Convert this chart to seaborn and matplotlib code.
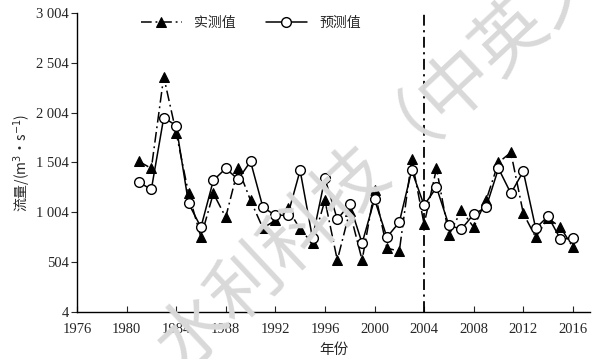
import numpy as np
import pandas as pd
import matplotlib
matplotlib.use('Agg')
import matplotlib.pyplot as plt
import seaborn as sns

years = list(range(1981, 2017))
measured = [1514, 1444, 2364, 1804, 1194, 754, 1194, 954, 1444, 1124,
            844, 924, 1044, 834, 694, 1124, 524, 1014, 524, 1224,
            644, 614, 1534, 884, 1444, 774, 1024, 854, 1124, 1504,
            1604, 994, 754, 944, 854, 654]
predicted = [1304, 1234, 1954, 1874, 1094, 854, 1324, 1444, 1334, 1514,
             1054, 974, 974, 1424, 744, 1344, 934, 1084, 694, 1134,
             754, 904, 1424, 1074, 1254, 874, 834, 984, 1054, 1444,
             1194, 1414, 844, 964, 734, 744]
yticks = [4, 504, 1004, 1504, 2004, 2504, 3004]
ytick_labels = ['4', '504', '1 004', '1 504', '2 004', '2 504', '3 004']
xticks = list(range(1976, 2017, 4))
split_year = 2004

df = pd.DataFrame({'year': years, 'measured': measured, 'predicted': predicted})

sns.set_style('ticks')
plt.rcParams['font.family'] = ['Liberation Serif', 'Noto Sans CJK SC', 'DejaVu Sans']
cjk = ['Noto Sans CJK SC', 'DejaVu Sans']

fig = plt.figure(figsize=(5.92, 3.59), dpi=100)
ax = fig.add_axes([0.130, 0.131, 0.867, 0.833])

# watermark
fig.text(0.685, 0.62, '水利科技（中英文）', family=cjk, fontsize=52, color='#d9d9d9',
         rotation=43, ha='center', va='center', rotation_mode='anchor', zorder=0)

sns.lineplot(data=df, x='year', y='measured', ax=ax, color='black', lw=1.1,
             marker='^', markersize=7, markerfacecolor='black', markeredgecolor='black',
             label='实测值', zorder=3)
sns.lineplot(data=df, x='year', y='predicted', ax=ax, color='black', lw=1.1,
             marker='o', markersize=7, markerfacecolor='white', markeredgecolor='black',
             markeredgewidth=1.0, label='预测值', zorder=4)
ax.lines[0].set_dashes((7, 2.5, 1.2, 2.5))

ax.axvline(split_year, color='black', lw=1.3, dashes=(6, 2.5, 1.2, 2.5), zorder=2)

ax.set_xlim(1976, 2017.4)
ax.set_ylim(4, 3004)
ax.set_xticks(xticks)
ax.set_yticks(yticks)
ax.set_yticklabels(ytick_labels)
ax.tick_params(axis='x', direction='in', length=4, labelsize=10.5, pad=8)
ax.tick_params(axis='y', direction='out', length=4, labelsize=10.5, pad=2)
ax.set_xlabel('年份', family=cjk, fontsize=10.5, labelpad=5)
ax.set_ylabel('流量/(m$^3$·s$^{-1}$)', family=cjk, fontsize=10, labelpad=2)
ax.patch.set_alpha(0)
sns.despine(ax=ax)
for s in ['left', 'bottom']:
    ax.spines[s].set_linewidth(1.0)
    ax.spines[s].set_color('black')

leg = ax.legend(loc='upper left', bbox_to_anchor=(0.12, 1.0), ncol=2, frameon=False,
                prop={'family': cjk, 'size': 10}, handlelength=2.9, columnspacing=2.2,
                handletextpad=0.9, borderaxespad=0, borderpad=0.2)

fig.savefig('out.png', dpi=100)
